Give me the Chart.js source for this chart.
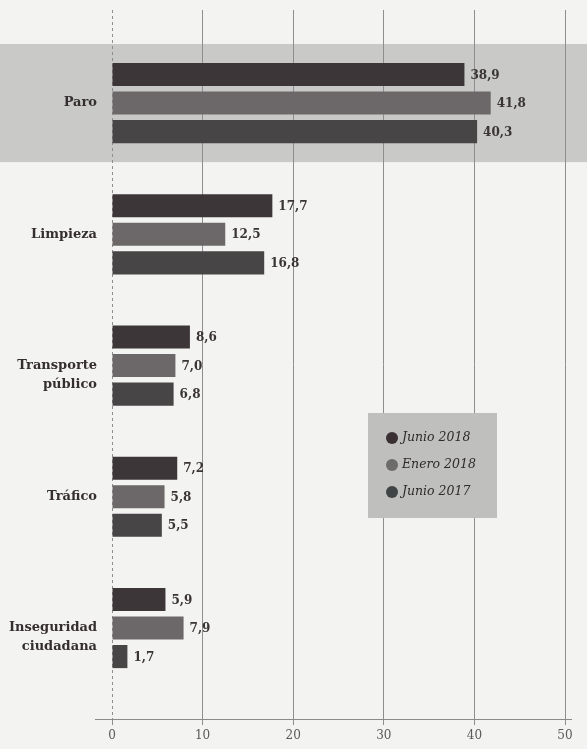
<!DOCTYPE html>
<html>
<head>
<meta charset="utf-8">
<script src="https://cdn.jsdelivr.net/npm/chart.js@4/dist/chart.umd.min.js"></script>
<style>
  html, body { margin: 0; padding: 0; background: #f3f3f1; }
  #wrap { width: 587px; height: 749px; position: relative; }
</style>
</head>
<body>
<div id="wrap"><canvas id="c" width="587" height="749"></canvas></div>
<script>
const categories = ['Paro', 'Limpieza', 'Transporte\npúblico', 'Tráfico', 'Inseguridad\nciudadana'];
const seriesNames = ['Junio 2018', 'Enero 2018', 'Junio 2017'];
const junio2018 = [38.9, 17.7, 8.6, 7.2, 5.9];
const enero2018 = [41.8, 12.5, 7.0, 5.8, 7.9];
const junio2017 = [40.3, 16.8, 6.8, 5.5, 1.7];
const xTicks = [0, 10, 20, 30, 40, 50];
const highlighted = 'Paro';

const barColors = ['#3d3639', '#6c6869', '#484546'];
const dotColors = ['#3a3034', '#6d6b6b', '#3f4445'];

function toPoints(arr) { return arr.map((v, i) => ({ x: v, y: i })); }

const bgPlugin = {
  id: 'bg',
  beforeDraw(chart) {
    const { ctx, width, scales } = chart;
    ctx.save();
    ctx.fillStyle = '#f3f3f1';
    ctx.fillRect(0, 0, width, chart.height);
    const idx = categories.indexOf(highlighted);
    const y = scales.y;
    const half = Math.abs(y.getPixelForValue(1) - y.getPixelForValue(0)) * 0.45;
    const cy = y.getPixelForValue(idx);
    ctx.fillStyle = '#c9c9c8';
    ctx.fillRect(0, cy - half, width, half * 2);
    ctx.restore();
  },
  beforeDatasetsDraw(chart) {
    const { ctx, chartArea } = chart;
    ctx.save();
    // axis line slightly extended beyond the plot, as in the print
    ctx.strokeStyle = '#8a8a8a';
    ctx.lineWidth = 1;
    ctx.beginPath();
    ctx.moveTo(chartArea.left - 17, chartArea.bottom + 0.5);
    ctx.lineTo(chartArea.right + 7, chartArea.bottom + 0.5);
    ctx.stroke();
    // dashed zero line
    const x0 = Math.round(chart.scales.x.getPixelForValue(0)) + 0.5;
    ctx.setLineDash([3, 3]);
    ctx.strokeStyle = '#8e8e8e';
    ctx.beginPath();
    ctx.moveTo(x0, chartArea.top);
    ctx.lineTo(x0, chartArea.bottom);
    ctx.stroke();
    ctx.restore();
  }
};

const valuePlugin = {
  id: 'values',
  afterDatasetsDraw(chart) {
    const { ctx } = chart;
    ctx.save();
    ctx.font = 'bold 12px "DejaVu Serif"';
    ctx.fillStyle = '#3a3436';
    ctx.textBaseline = 'middle';
    ctx.textAlign = 'left';
    chart.data.datasets.forEach((ds, di) => {
      const meta = chart.getDatasetMeta(di);
      meta.data.forEach((bar, i) => {
        const v = ds.data[i].x;
        ctx.fillText(v.toFixed(1).replace('.', ','), bar.x + 6, bar.y + 1);
      });
    });
    ctx.restore();
  }
};

const legendPlugin = {
  id: 'customLegend',
  afterDraw(chart) {
    const { ctx } = chart;
    const bx = 368, by = 413, bw = 129, bh = 105;
    ctx.save();
    ctx.fillStyle = '#bfbfbe';
    ctx.fillRect(bx, by, bw, bh);
    ctx.font = 'italic 12.5px "DejaVu Serif"';
    ctx.textBaseline = 'middle';
    chart.data.datasets.forEach((ds, i) => {
      const cy = by + 25 + i * 27;
      ctx.beginPath();
      ctx.arc(bx + 24, cy, 6, 0, Math.PI * 2);
      ctx.fillStyle = dotColors[i];
      ctx.fill();
      ctx.fillStyle = '#2f2a2c';
      ctx.fillText(ds.label, bx + 34, cy);
    });
    ctx.restore();
  }
};

const chart = new Chart(document.getElementById('c'), {
  type: 'bar',
  data: {
    datasets: [
      { label: seriesNames[0], data: toPoints(junio2018), backgroundColor: barColors[0] },
      { label: seriesNames[1], data: toPoints(enero2018), backgroundColor: barColors[1] },
      { label: seriesNames[2], data: toPoints(junio2017), backgroundColor: barColors[2] }
    ]
  },
  options: {
    indexAxis: 'y',
    responsive: false,
    animation: false,
    devicePixelRatio: 1,
    categoryPercentage: 0.652,
    barPercentage: 0.81,
    layout: { padding: { left: 0, right: 22, top: 10, bottom: 0 } },
    plugins: {
      legend: { display: false },
      tooltip: { enabled: false }
    },
    scales: {
      x: {
        type: 'linear',
        min: 0,
        max: 50,
        afterBuildTicks(scale) { scale.ticks = xTicks.map(v => ({ value: v })); },
        afterFit(scale) { scale.height = 30; },
        grid: {
          color: (c) => (c.tick && c.tick.value === 0) ? 'rgba(0,0,0,0)' : '#8e8e8e',
          lineWidth: 1, tickLength: 6, drawTicks: true, tickColor: '#8e8e8e'
        },
        border: { display: false },
        ticks: { color: '#5a5a5a', font: { family: 'DejaVu Serif', size: 12 }, padding: 4 }
      },
      y: {
        type: 'linear',
        reverse: true,
        offset: false,
        bounds: 'data',
        grace: 0,
        min: -0.709,
        max: 4.693,
        afterBuildTicks(scale) { scale.ticks = categories.map((_, i) => ({ value: i })); },
        afterFit(scale) { scale.width = 112; scale.paddingTop = 0; scale.paddingBottom = 0; },
        grid: { display: false, drawTicks: false, offset: false },
        border: { display: false },
        ticks: {
          padding: 15,
          color: '#352e31',
          font: { family: 'DejaVu Serif', size: 13, weight: 'bold', lineHeight: 1.45 },
          callback(value) {
            const lbl = categories[Math.round(value)];
            if (lbl === undefined) return '';
            const parts = lbl.split('\n');
            return parts.length > 1 ? [''].concat(parts) : lbl;
          }
        }
      }
    }
  },
  plugins: [bgPlugin, valuePlugin, legendPlugin]
});
</script>
</body>
</html>
